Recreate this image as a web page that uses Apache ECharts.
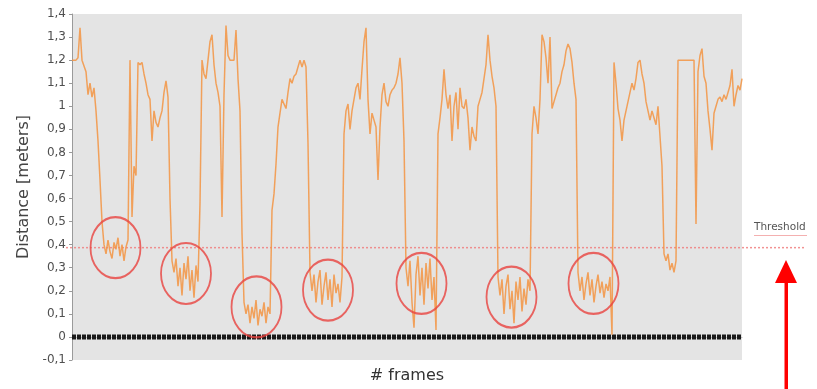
<!DOCTYPE html>
<html>
<head>
<meta charset="utf-8">
<script src="https://cdn.jsdelivr.net/npm/echarts@6/dist/echarts.min.js"></script>
<style>html,body{margin:0;padding:0;background:#fff}#c{width:817px;height:389px}</style>
</head>
<body>
<div id="c"></div>
<script>
// ---- data ----
const frameStep = 2;           // frames between samples
const frameMax = 670;
const yTicks = { min: -0.1, max: 1.4, interval: 0.1 };
const distance = [
  1.20,1.20,1.20,1.21,1.34,1.20,1.20,1.15,1.05,1.10,
  1.04,1.08,0.98,0.85,0.68,0.50,0.40,0.36,0.42,0.37,
  0.34,0.41,0.38,0.43,0.35,0.40,0.33,0.39,0.42,1.20,
  0.52,0.74,0.70,1.19,1.18,1.19,1.14,1.10,1.05,1.03,
  0.85,0.98,0.93,0.91,0.95,0.98,1.06,1.11,1.04,0.60,
  0.33,0.28,0.34,0.22,0.30,0.18,0.32,0.25,0.35,0.20,
  0.29,0.17,0.31,0.24,0.58,1.20,1.14,1.12,1.20,1.28,
  1.31,1.18,1.10,1.06,1.00,0.52,1.05,1.35,1.22,1.20,
  1.20,1.20,1.33,1.12,0.98,0.45,0.15,0.10,0.14,0.06,
  0.13,0.08,0.16,0.05,0.12,0.09,0.15,0.06,0.13,0.10,
  0.55,0.62,0.75,0.91,0.97,1.03,1.01,0.99,1.06,1.12,
  1.10,1.13,1.14,1.17,1.20,1.17,1.20,1.17,0.84,0.28,
  0.20,0.27,0.15,0.24,0.29,0.14,0.22,0.28,0.16,0.25,
  0.13,0.27,0.19,0.23,0.15,0.26,0.88,0.98,1.01,0.90,
  0.98,1.03,1.08,1.10,1.03,1.16,1.28,1.34,1.03,0.88,
  0.97,0.94,0.91,0.68,0.91,1.05,1.10,1.02,1.00,1.05,
  1.07,1.08,1.10,1.14,1.21,1.10,0.85,0.30,0.22,0.33,
  0.15,0.04,0.27,0.35,0.18,0.30,0.14,0.32,0.21,0.34,
  0.16,0.26,0.03,0.88,0.95,1.03,1.16,1.05,0.99,1.05,
  0.85,1.00,1.06,0.90,1.08,1.00,0.99,1.03,0.95,0.81,
  0.91,0.87,0.85,1.00,1.03,1.06,1.12,1.18,1.31,1.20,
  1.13,1.08,1.00,0.26,0.18,0.25,0.10,0.22,0.27,0.12,
  0.20,0.06,0.24,0.16,0.26,0.11,0.21,0.14,0.25,0.20,
  0.88,1.00,0.95,0.88,1.03,1.31,1.28,1.21,1.10,1.30,
  0.99,1.02,1.05,1.08,1.10,1.15,1.18,1.24,1.27,1.25,
  1.19,1.10,1.03,0.28,0.20,0.26,0.16,0.23,0.28,0.18,
  0.25,0.15,0.22,0.27,0.19,0.24,0.17,0.23,0.20,0.26,
  0.01,1.19,1.10,0.99,0.94,0.85,0.94,0.98,1.02,1.06,
  1.10,1.07,1.12,1.19,1.20,1.14,1.10,1.02,0.98,0.94,
  0.98,0.95,0.92,1.00,1.00,0.74,0.36,0.33,0.36,0.29,
  0.32,0.28,0.33,1.20,1.20,1.20,1.20,1.20,1.20,1.20,
  1.20,1.20,0.49,1.15,1.22,1.25,1.13,1.10,0.98,0.90,
  0.81,0.97,1.00,1.03,1.04,1.02,1.05,1.03,1.06,1.09,
  1.16,1.00,1.05,1.09,1.07,1.12
];
const thresholdValue = 0.39;
const baselineValue = 0;
const circleFrames = [43.5, 114, 184.5, 256, 349.5, 439.5, 521.5];
const circleValues = [0.387, 0.275, 0.13, 0.203, 0.232, 0.173, 0.232];
const xAxisName = '# frames';
const yAxisName = 'Distance [meters]';
const thresholdLabel = 'Threshold';

// ---- chart ----
const FONT = 'DejaVu Sans';
const chart = echarts.init(document.getElementById('c'), null, { renderer: 'canvas' });
const lineData = distance.map((v, i) => [i * frameStep, v]);
const circleData = circleFrames.map((f, i) => [f, circleValues[i]]);
const ellipse = 'path://M0,-1C0.5523,-1 1,-0.5523 1,0C1,0.5523 0.5523,1 0,1C-0.5523,1 -1,0.5523 -1,0C-1,-0.5523 -0.5523,-1 0,-1Z';
const fmt = v => String(Math.round(v * 10) / 10).replace('.', ',');

chart.setOption({
  animation: false,
  backgroundColor: '#ffffff',
  grid: [
    { left: 72, right: 75, top: 14, bottom: 28, show: true, backgroundColor: '#e4e4e4', borderWidth: 0 },
    { left: 66, right: 12, top: 14, bottom: 28 }
  ],
  xAxis: [
    {
      type: 'value', gridIndex: 0, min: 0, max: frameMax,
      name: xAxisName, nameLocation: 'middle', nameGap: 8,
      nameTextStyle: { fontFamily: FONT, fontSize: 16, color: '#333' },
      axisLine: { show: true, lineStyle: { color: '#b8b8b8', width: 1 } },
      axisTick: { show: false }, axisLabel: { show: false }, splitLine: { show: false }
    },
    { type: 'value', gridIndex: 1, min: 0, max: 1, show: false }
  ],
  yAxis: [
    {
      type: 'value', gridIndex: 0, min: yTicks.min, max: yTicks.max, interval: yTicks.interval,
      name: yAxisName, nameLocation: 'middle', nameGap: 38,
      nameTextStyle: { fontFamily: FONT, fontSize: 16, color: '#444' },
      axisLine: { show: true, lineStyle: { color: '#9a9a9a' } },
      axisTick: { show: true, length: 3, lineStyle: { color: '#9a9a9a' } },
      axisLabel: { formatter: fmt, fontFamily: FONT, fontSize: 12, color: '#505050', margin: 6 },
      splitLine: { show: false }
    },
    { type: 'value', gridIndex: 1, min: yTicks.min, max: yTicks.max, show: false }
  ],
  series: [
    {
      type: 'line', xAxisIndex: 1, yAxisIndex: 1, silent: true, symbol: 'none',
      data: [[0, thresholdValue], [1, thresholdValue]],
      lineStyle: { color: '#f07f7f', width: 1.5, type: [2, 2], opacity: 0.85 }, z: 1
    },
    {
      type: 'line', xAxisIndex: 0, yAxisIndex: 0, silent: true, symbol: 'none',
      data: [[0, baselineValue], [frameMax, baselineValue]],
      lineStyle: { color: '#1a1a1a', width: 5, type: [4, 1] }, z: 2
    },
    {
      type: 'line', xAxisIndex: 0, yAxisIndex: 0, silent: true, symbol: 'none',
      data: lineData,
      lineStyle: { color: '#f39442', width: 1.5, opacity: 0.85 }, z: 3
    },
    {
      type: 'scatter', xAxisIndex: 0, yAxisIndex: 0, silent: true,
      symbol: ellipse, symbolSize: [50, 61], symbolKeepAspect: false,
      data: circleData,
      itemStyle: { color: 'rgba(0,0,0,0)', borderColor: '#e8423f', borderWidth: 2 }, z: 4
    }
  ],
  graphic: [
    { type: 'text', left: 754, top: 222, z: 10,
      style: { text: thresholdLabel, fontFamily: FONT, fontSize: 10.5, fill: '#555' } },
    { type: 'rect', left: 754, top: 235, z: 10, shape: { width: 53, height: 1 }, style: { fill: '#f4b0b0' } },
    { type: 'polygon', z: 10, shape: { points: [[786, 260], [775, 283], [797, 283]] }, style: { fill: '#ff0000' } },
    { type: 'rect', z: 10, shape: { x: 784.5, y: 282, width: 3.5, height: 110 }, style: { fill: '#ff0000' } }
  ]
});
</script>
</body>
</html>
